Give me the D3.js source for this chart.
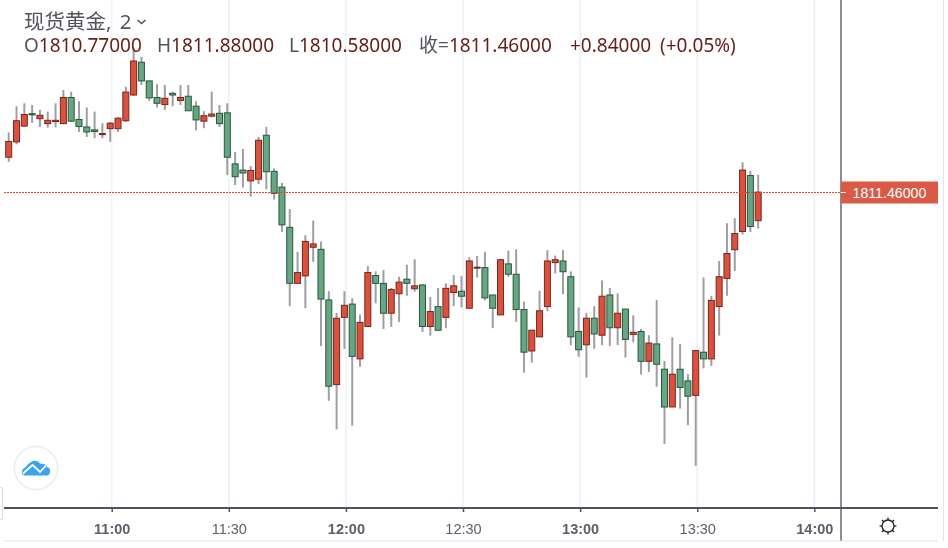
<!DOCTYPE html>
<html>
<head>
<meta charset="utf-8">
<script src="https://cdn.jsdelivr.net/npm/d3@7"></script>
<style>
    html, body { margin: 0; padding: 0; background: #fff; }
    svg { display: block; filter: blur(0.35px); }
    text { font-family: "Noto Sans", "Noto Sans CJK SC", sans-serif; }
    .time_axis path { display: none; }
    .time_axis text { font-family: "Liberation Sans", sans-serif; font-size: 14.5px; fill: #5d606b; }
</style>
</head>
<body>
<div id="chart"></div>
<script>

const width = 948
const height = 548
const axis_y = 508
const pane_right = 841
const bar_shift = -1.5 // bars sit a little left of their tick

// 2 minute bars
const bar_times = [
    '10:34','10:36','10:38','10:40','10:42','10:44','10:46','10:48','10:50','10:52','10:54','10:56','10:58',
    '11:00','11:02','11:04','11:06','11:08','11:10','11:12','11:14','11:16','11:18','11:20','11:22','11:24','11:26','11:28',
    '11:30','11:32','11:34','11:36','11:38','11:40','11:42','11:44','11:46','11:48','11:50','11:52','11:54','11:56','11:58',
    '12:00','12:02','12:04','12:06','12:08','12:10','12:12','12:14','12:16','12:18','12:20','12:22','12:24','12:26','12:28',
    '12:30','12:32','12:34','12:36','12:38','12:40','12:42','12:44','12:46','12:48','12:50','12:52','12:54','12:56','12:58',
    '13:00','13:02','13:04','13:06','13:08','13:10','13:12','13:14','13:16','13:18','13:20','13:22','13:24','13:26','13:28',
    '13:30','13:32','13:34','13:36','13:38','13:40','13:42','13:44','13:46'
]
const opens = [
    1812.30,1812.67,1813.05,1813.35,1813.23,1813.11,1813.16,1813.11,1813.74,1813.21,1813.03,1812.96,1812.85,
    1812.99,1812.99,1813.18,1813.80,1814.59,1814.14,1813.74,1813.57,1813.84,1813.67,1813.77,1813.53,1813.17,1813.29,1813.36,
    1813.37,1812.14,1811.99,1811.73,1811.77,1812.83,1811.96,1811.58,1810.61,1809.26,1809.44,1810.13,1810.08,1808.86,1806.82,
    1808.44,1808.76,1807.44,1808.22,1809.45,1809.26,1808.54,1809.01,1809.36,1809.13,1809.22,1808.22,1808.70,1808.44,1809.04,
    1809.07,1808.66,1809.63,1809.64,1808.98,1808.50,1809.73,1809.48,1808.63,1807.63,1807.97,1808.70,1809.76,1809.80,1809.42,
    1808.10,1807.78,1808.42,1808.01,1808.98,1808.19,1808.64,1808.03,1808.10,1807.38,1807.80,1807.19,1806.28,1807.19,1806.91,
    1806.56,1807.60,1807.44,1808.70,1809.38,1810.07,1810.51,1811.86,1810.77
]
const highs = [
    1812.90,1813.53,1813.60,1813.56,1813.44,1813.40,1813.60,1813.92,1813.88,1813.65,1813.50,1813.40,1813.12,
    1813.15,1813.27,1814.00,1814.93,1814.72,1814.14,1814.06,1814.04,1813.88,1814.04,1814.04,1813.65,1813.41,1813.88,1813.56,
    1813.60,1812.43,1812.50,1812.09,1812.79,1813.03,1812.03,1811.68,1811.05,1810.02,1810.42,1810.77,1810.27,1809.07,1808.55,
    1809.07,1808.90,1808.51,1809.68,1809.55,1809.58,1809.15,1809.42,1809.71,1809.84,1809.24,1808.93,1809.15,1809.26,1809.46,
    1809.44,1809.89,1809.92,1810.02,1808.98,1809.85,1810.05,1810.08,1808.82,1808.13,1809.08,1810.06,1809.93,1810.06,1809.55,
    1808.68,1808.55,1808.71,1809.33,1809.15,1809.02,1808.64,1808.49,1808.16,1808.01,1808.86,1807.39,1807.96,1807.80,1807.07,
    1807.64,1809.40,1808.96,1809.80,1810.71,1810.83,1812.18,1811.97,1811.88
]
const lows = [
    1812.19,1812.61,1813.03,1813.13,1813.03,1813.01,1813.02,1813.10,1813.15,1812.91,1812.79,1812.76,1812.76,
    1812.67,1812.91,1813.15,1813.78,1814.04,1813.66,1813.50,1813.44,1813.53,1813.56,1813.42,1812.95,1813.00,1813.26,1813.03,
    1811.87,1811.63,1811.57,1811.35,1811.65,1811.53,1811.28,1810.50,1808.71,1809.26,1808.66,1809.78,1807.75,1806.43,1805.74,
    1807.68,1805.83,1807.25,1808.22,1808.78,1808.16,1808.21,1808.33,1808.96,1809.06,1808.09,1808.00,1808.13,1808.18,1808.71,
    1808.68,1808.66,1809.40,1808.85,1808.18,1808.50,1809.42,1808.33,1807.11,1807.35,1807.97,1808.59,1809.50,1809.00,1807.77,
    1807.49,1806.99,1807.68,1807.77,1807.75,1807.77,1807.47,1807.84,1807.06,1807.12,1806.77,1805.39,1806.28,1806.24,1805.84,
    1804.86,1807.21,1807.27,1808.00,1808.96,1809.56,1810.44,1810.50,1810.58
]
const closes = [
    1812.68,1813.18,1813.33,1813.32,1813.31,1813.19,1813.19,1813.74,1813.17,1813.04,1812.91,1812.92,1812.87,
    1813.12,1813.24,1813.87,1814.62,1814.14,1813.73,1813.60,1813.72,1813.80,1813.74,1813.42,1813.20,1813.30,1813.34,1813.11,
    1812.30,1811.83,1811.92,1811.98,1812.71,1811.95,1811.43,1810.67,1809.26,1809.52,1810.27,1810.21,1808.88,1806.78,1808.42,
    1808.73,1807.50,1808.32,1809.52,1809.26,1808.54,1809.11,1809.29,1809.26,1809.20,1808.22,1808.58,1808.13,1809.14,1809.20,
    1808.95,1809.80,1809.65,1808.91,1808.66,1809.83,1809.48,1808.63,1807.60,1808.13,1808.60,1809.80,1809.83,1809.54,1807.97,
    1807.66,1808.42,1808.04,1808.95,1808.19,1808.54,1807.91,1808.08,1807.38,1807.82,1807.31,1806.28,1807.07,1806.75,1806.54,
    1807.64,1807.44,1808.85,1809.42,1809.98,1810.46,1811.99,1810.63,1811.46
]

const tick_times = ['11:00', '11:30', '12:00', '12:30', '13:00', '13:30', '14:00']
const last_price = 1811.46
const price_domain = [1804.52, 1816.09]

const to_date = s => d3.timeParse('%H:%M')(s)
const candles = bar_times.map((t, i) => ({
    time: to_date(t), open: opens[i], high: highs[i], low: lows[i], close: closes[i]
}))

const x = d3.scaleTime()
    .domain([d3.timeParse('%H:%M:%S')('10:31:23'), d3.timeParse('%H:%M:%S')('14:06:50')])
    .range([0, pane_right])
const y = d3.scaleLinear().domain(price_domain).range([480, 0])

const svg = d3.select('#chart').append('svg')
    .attr('width', width)
    .attr('height', height)
    .attr('viewBox', `0 0 ${width} ${height}`)

// grid
svg.append('g').selectAll('line')
    .data(tick_times.map(to_date))
    .enter()
    .append('line')
    .attr('x1', d => x(d)).attr('x2', d => x(d))
    .attr('y1', 0).attr('y2', axis_y)
    .attr('stroke', '#edf2f8')
    .attr('stroke-width', 1.6)

// candles
const bars = svg.append('g').attr('transform', `translate(${bar_shift},0)`)
bars.selectAll('line')
    .data(candles)
    .enter()
    .append('line')
    .attr('x1', d => x(d.time)).attr('x2', d => x(d.time))
    .attr('y1', d => y(d.high)).attr('y2', d => y(d.low))
    .attr('stroke', '#9f9fa2')
    .attr('stroke-width', 2)
bars.selectAll('rect')
    .data(candles)
    .enter()
    .append('rect')
    .attr('x', d => x(d.time) - 3)
    .attr('width', 6)
    .attr('y', d => y(Math.max(d.open, d.close)))
    .attr('height', d => Math.max(y(Math.min(d.open, d.close)) - y(Math.max(d.open, d.close)), 1))
    .attr('fill', d => d.close >= d.open ? '#d9523f' : '#69a583')
    .attr('stroke', d => d.close >= d.open ? '#7b241c' : '#225a3c')
    .attr('stroke-width', 1)

// last price line and label
const last_y = Math.round(y(last_price)) + 0.5
svg.append('line')
    .attr('x1', 4).attr('x2', pane_right)
    .attr('y1', last_y).attr('y2', last_y)
    .attr('stroke', '#ee3f2c')
    .attr('stroke-width', 1)
    .attr('stroke-dasharray', '2,1')

// frame
svg.append('line').attr('x1', pane_right).attr('x2', pane_right).attr('y1', 0).attr('y2', 541)
    .attr('stroke', '#8b8e96').attr('stroke-width', 2)
svg.append('line').attr('x1', 4).attr('x2', 938).attr('y1', 541).attr('y2', 541)
    .attr('stroke', '#e2e3eb').attr('stroke-width', 1)
svg.append('line').attr('x1', 943.5).attr('x2', 943.5).attr('y1', 0).attr('y2', 541)
    .attr('stroke', '#e2e3eb').attr('stroke-width', 1)
svg.append('path')
    .attr('d', 'M0 487.5 h1 q1.5 0 1.5 1.5 v29 q0 1.5 -1.5 1.5 h-1')
    .attr('fill', 'none').attr('stroke', '#dcdde2').attr('stroke-width', 1)

const price_tag = svg.append('g')
price_tag.append('rect')
    .attr('x', pane_right).attr('y', last_y - 11)
    .attr('width', 97).attr('height', 22)
    .attr('fill', '#d95a47')
price_tag.append('line')
    .attr('x1', pane_right).attr('x2', pane_right + 5)
    .attr('y1', last_y).attr('y2', last_y)
    .attr('stroke', '#fff').attr('stroke-width', 1)
price_tag.append('text')
    .text(d3.format('.5f')(last_price))
    .attr('x', 852.5).attr('y', last_y + 5)
    .attr('fill', '#fff')
    .style('font-family', '"Liberation Sans", sans-serif')
    .style('font-size', '14.2px')

// time axis
const time_axis = d3.axisBottom(x)
    .tickValues(tick_times.map(to_date))
    .tickFormat(d3.timeFormat('%H:%M'))
    .tickSize(4)
    .tickPadding(11.5)
const axis_g = svg.append('g')
    .attr('class', 'time_axis')
    .attr('transform', `translate(0,${axis_y})`)
    .call(time_axis)
axis_g.selectAll('line').attr('stroke', '#50535e').attr('stroke-width', 1.5)
axis_g.selectAll('text')
    .style('font-weight', d => d.getMinutes() === 0 ? 'bold' : 'normal')
svg.append('line').attr('x1', 4).attr('x2', 938).attr('y1', axis_y).attr('y2', axis_y)
    .attr('stroke', '#50535e').attr('stroke-width', 2)

// settings icon
const sun = svg.append('g').attr('transform', 'translate(888,526)')
sun.append('circle').attr('r', 6).attr('fill', 'none').attr('stroke', '#222').attr('stroke-width', 1.3)
sun.selectAll('line')
    .data(d3.range(8))
    .enter()
    .append('line')
    .attr('y1', -6).attr('y2', -8.5)
    .attr('transform', d => `rotate(${d * 45})`)
    .attr('stroke', '#222').attr('stroke-width', 1.3)

// logo
svg.append('circle').attr('cx', 36).attr('cy', 468).attr('r', 21.5)
    .attr('fill', '#fff').attr('stroke', '#ececec').attr('stroke-width', 1.5)
svg.append('path')
    .attr('d', 'M24.5 475.5 q-3 -1 -2.6 -4 q0.4 -2.4 2.6 -3.4 l5 -5 q4 -3.2 8 -1.8 l3.2 2.5 q5 -0.4 6.5 3.2 q3.2 1.2 3 4.6 q-0.4 3.9 -4 3.9 z')
    .attr('fill', '#3aa4ee')
svg.append('path')
    .attr('d', 'M23 473.5 l9.5 -8.5 l7.5 7 l6 -6.5')
    .attr('fill', 'none').attr('stroke', '#fff').attr('stroke-width', 1.8)

// legend
const legend_label = '#50535e'
const legend_value = '#651f18'
const legend = svg.append('g').style('font-size', '19px')
legend.append('text').text('现货黄金, 2')
    .attr('x', 24).attr('y', 29)
    .attr('fill', legend_label)
    .attr('word-spacing', 3)
    .style('font-size', '20.5px')
legend.append('path')
    .attr('d', 'M137.5 20 l4 3.5 l4 -3.5')
    .attr('fill', 'none').attr('stroke', '#50535e').attr('stroke-width', 1.5)

const legend_items = [
    ['O', '1810.77000', 24],
    ['H', '1811.88000', 157],
    ['L', '1810.58000', 289],
    ['收=', '1811.46000', 419],
    ['', '+0.84000', 570],
    ['', '(+0.05%)', 660]
]
legend_items.forEach(function(item) {
    const t = legend.append('text').attr('x', item[2]).attr('y', 52)
    t.append('tspan').text(item[0]).attr('fill', legend_label)
    t.append('tspan').text(item[1]).attr('fill', legend_value)
})

</script>
</body>
</html>
